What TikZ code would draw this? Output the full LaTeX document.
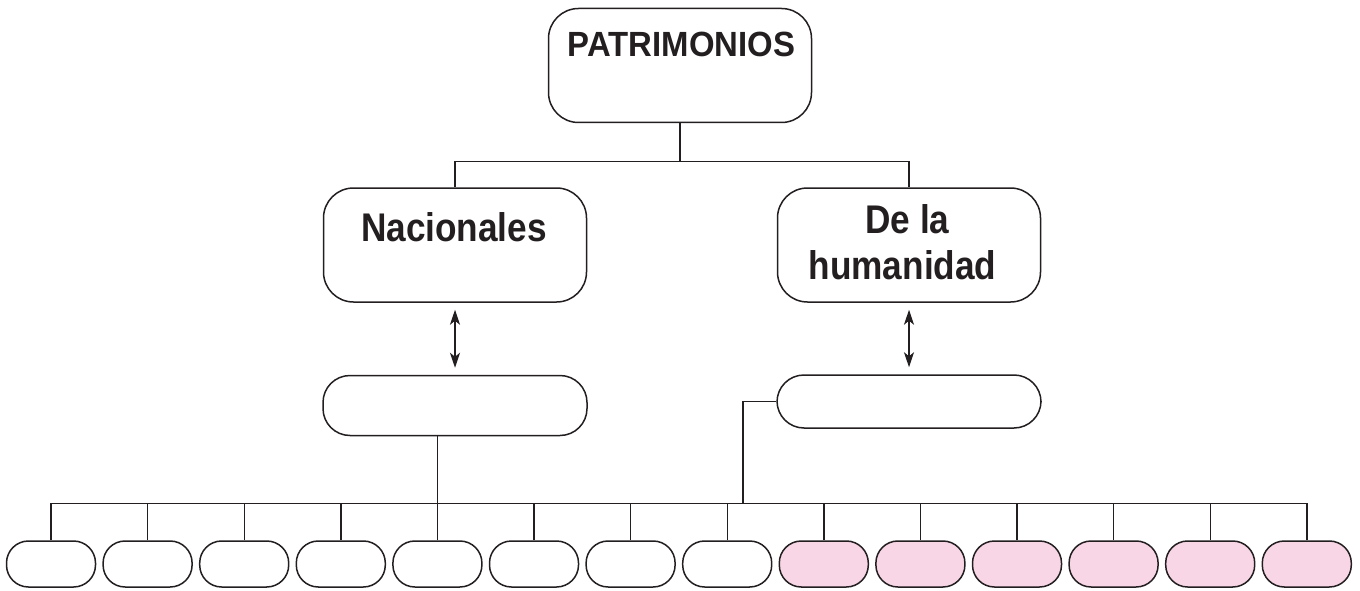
\documentclass[tikz,border=0pt]{standalone}
\usepackage{fontspec}
\setmainfont{Liberation Sans}
\newfontfamily\estrecha[FakeStretch=0.88]{Liberation Sans}
\newfontfamily\titular[FakeStretch=0.94]{Liberation Sans}
\usetikzlibrary{positioning,arrows.meta}
\definecolor{trazo}{RGB}{35,31,32}
\definecolor{rosado}{RGB}{249,214,230}

\begin{document}
\begin{tikzpicture}[x=1pt,y=-1pt,
    linea/.style={draw=trazo, line width=1.4pt},
    caja/.style={draw=trazo, line width=1.5pt, rounded corners=30pt, inner sep=0pt,
        minimum width=263pt, minimum height=114pt},
    barra/.style={draw=trazo, line width=1.5pt, rounded corners=27pt, inner sep=0pt,
        minimum width=264pt},
    hoja/.style={draw=trazo, line width=1.5pt, rounded corners=22pt, inner sep=0pt,
        minimum width=89pt, minimum height=46pt, fill=white},
    hojarosa/.style={hoja, fill=rosado},
    titulo/.style={text=trazo, font=\estrecha\bfseries\fontsize{40}{46}\selectfont, inner sep=0pt},
    punta/.tip={Stealth[length=15pt,width=10pt,inset=4pt]},
    flecha/.style={linea, punta-punta}
]
    \useasboundingbox (0,0) rectangle (1360,591);

    % Cajas principales
    \node[caja] (pat) at (680,65.5) {};
    \node[caja] (nac) at (455,245) {};
    \node[caja] (hum) at (909,245) {};
    \node[titulo, anchor=base, font=\titular\bfseries\fontsize{35}{42}\selectfont] (tpat) at (681.5,57) {PATRIMONIOS};
    \node[titulo, anchor=base] (tnac) at (454,241) {Nacionales};
    \node[titulo, anchor=base] (tde) at (907.5,233) {De la};
    \node[titulo, anchor=base] (thum) at (902.5,279) {humanidad};

    % Cajas intermedias (vacias)
    \node[barra, minimum height=60pt] (nacb) at (455,405.5) {};
    \node[barra, minimum height=53pt] (humb) at (909,401.5) {};

    % Conectores superiores
    \draw[linea] (pat.south) -- ++(0,38) coordinate (tp) -| (nac.north);
    \draw[linea] (tp) -| (hum.north);
    \draw[flecha, shorten <=7pt, shorten >=7pt] (nac) -- (nacb);
    \draw[flecha, shorten <=7pt, shorten >=7pt] (hum) -- (humb);

    % Fila inferior
    \foreach \i in {0,...,13} {
        \ifnum\i<8 \def\estilo{hoja}\else \def\estilo{hojarosa}\fi
        \node[\estilo] (b\i) at (51+96.6*\i,564) {};
        \draw[linea] (b\i.north) -- ([yshift=37pt]b\i.north);
    }
    \draw[linea] ([yshift=37pt]b0.north) -- ([yshift=37pt]b13.north);
    \draw[linea] (b4.north |- nacb.south) -- ([yshift=37pt]b4.north);
    \coordinate (rb) at (743,504);
    \draw[linea] (humb.west) -| (rb);
\end{tikzpicture}
\end{document}
